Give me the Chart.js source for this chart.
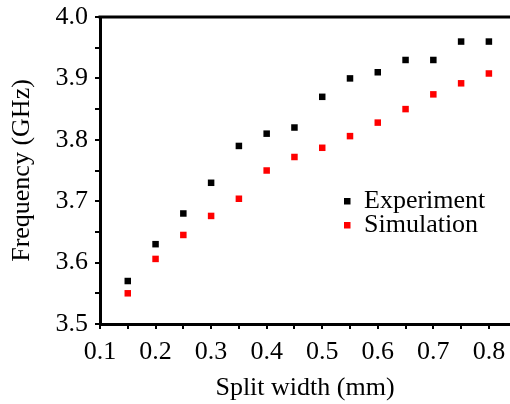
<!DOCTYPE html>
<html>
<head>
<meta charset="utf-8">
<script src="https://cdn.jsdelivr.net/npm/chart.js@4"></script>
<style>
  html, body { margin: 0; padding: 0; background: #fff; }
  #wrap { width: 510px; height: 404px; }
</style>
</head>
<body>
<div id="wrap"><canvas id="freqChart" width="510" height="404"></canvas></div>
<script>
// data
const splitWidth = [0.15, 0.2, 0.25, 0.3, 0.35, 0.4, 0.45, 0.5, 0.55, 0.6, 0.65, 0.7, 0.75, 0.8];
const experiment = [3.57, 3.63, 3.68, 3.73, 3.79, 3.81, 3.82, 3.87, 3.90, 3.91, 3.93, 3.93, 3.96, 3.96];
const simulation = [3.55, 3.606, 3.645, 3.676, 3.704, 3.75, 3.772, 3.787, 3.806, 3.828, 3.85, 3.874, 3.892, 3.908];
const seriesNames = ["Experiment", "Simulation"];
const seriesColors = ["#000000", "#ff0000"];

const serif = "'Liberation Serif', 'DejaVu Serif', serif";

function toPoints(ys) {
    return splitWidth.map((x, i) => ({ x: x, y: ys[i] }));
}

// top frame line + legend inside the plot
const extras = {
    id: "extras",
    afterDraw(chart) {
        const c = chart.ctx;
        const area = chart.chartArea;
        c.save();
        c.strokeStyle = "#000";
        c.lineWidth = 3;
        c.beginPath();
        c.moveTo(area.left - 1.5, area.top);
        c.lineTo(chart.width, area.top);
        c.stroke();

        c.font = "26px " + serif;
        c.textBaseline = "middle";
        chart.data.datasets.forEach((ds, i) => {
            const y = 201 + i * 24;
            c.fillStyle = ds.backgroundColor;
            c.fillRect(344, y - 3, 6.5, 6.5);
            c.fillStyle = "#000";
            c.fillText(ds.label, 364, y);
        });
        c.restore();
    }
};

const ctx = document.getElementById("freqChart").getContext("2d");
const chart = new Chart(ctx, {
    type: "scatter",
    data: {
        datasets: [
            {
                label: seriesNames[0],
                data: toPoints(experiment),
                backgroundColor: seriesColors[0],
                borderWidth: 0,
                pointStyle: "rect",
                pointRadius: 4.6
            },
            {
                label: seriesNames[1],
                data: toPoints(simulation),
                backgroundColor: seriesColors[1],
                borderWidth: 0,
                pointStyle: "rect",
                pointRadius: 4.6
            }
        ]
    },
    options: {
        responsive: false,
        animation: false,
        layout: { autoPadding: false, padding: { top: 17, right: 0, left: 0, bottom: 0 } },
        plugins: {
            legend: { display: false },
            tooltip: { enabled: false }
        },
        scales: {
            x: {
                type: "linear",
                min: 0.1,
                max: 0.838,
                afterBuildTicks: (s) => { s.ticks = s.ticks.filter(t => t.value <= 0.8001); },
                afterFit: (s) => { s.height = 80; s.paddingLeft = 0; s.paddingRight = 0; },
                border: { display: true, color: "#000", width: 3 },
                grid: { drawOnChartArea: false, drawTicks: true, tickLength: 5, color: "#000", lineWidth: 2 },
                ticks: {
                    stepSize: 0.05,
                    includeBounds: false,
                    autoSkip: false,
                    maxRotation: 0,
                    padding: 8,
                    color: "#000",
                    font: { family: serif, size: 26 },
                    callback: (v) => Math.round(v * 100) % 10 === 0 ? v.toFixed(1) : ""
                },
                title: {
                    display: true,
                    text: "Split width (mm)",
                    color: "#000",
                    font: { family: serif, size: 26 },
                    padding: { top: 0, bottom: 0 }
                }
            },
            y: {
                min: 3.5,
                max: 4.0,
                afterFit: (s) => { s.width = 100; s.paddingTop = 0; s.paddingBottom = 0; },
                border: { display: true, color: "#000", width: 3 },
                grid: { drawOnChartArea: false, drawTicks: true, tickLength: 5, color: "#000", lineWidth: 2 },
                ticks: {
                    stepSize: 0.05,
                    autoSkip: false,
                    padding: 7,
                    color: "#000",
                    font: { family: serif, size: 26 },
                    callback: (v) => Math.round(v * 100) % 10 === 0 ? v.toFixed(1) : ""
                },
                title: {
                    display: true,
                    text: "Frequency (GHz)",
                    color: "#000",
                    font: { family: serif, size: 26 },
                    padding: { top: 7, bottom: 0 }
                }
            }
        }
    },
    plugins: [extras]
});
</script>
</body>
</html>
